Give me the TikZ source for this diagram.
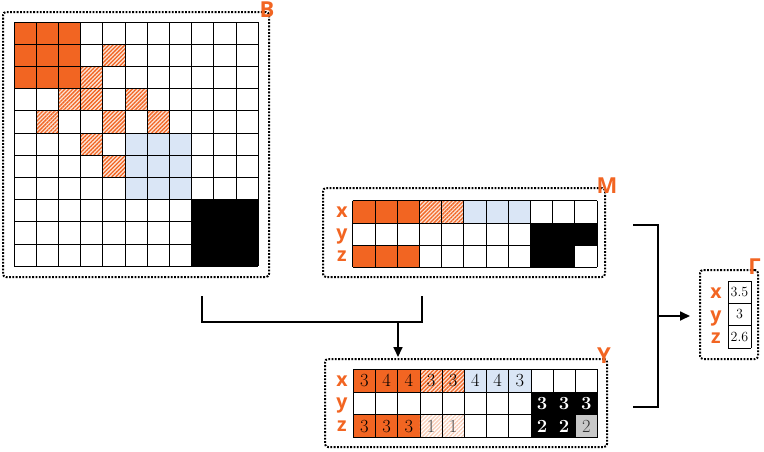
\documentclass[tikz,border=0pt]{standalone}
\usepackage{fontspec}
\newfontfamily\labfont{Open Sans}
\usetikzlibrary{patterns.meta,arrows.meta}
\definecolor{org}{HTML}{F26522}
\definecolor{lblue}{HTML}{DAE6F6}
\definecolor{peach}{HTML}{FCE3D6}
\definecolor{paleorg}{HTML}{F8CDB8}
\definecolor{lgray}{HTML}{C8C8C8}
\tikzset{
  dotbox/.style={draw=black, line width=2pt, dash pattern=on 1.8pt off 1.5pt, rounded corners=3pt, inner sep=0pt, outer sep=0pt, anchor=north west},
  orgcell/.style={fill=org},
  bluecell/.style={fill=lblue},
  blackcell/.style={fill=black},
  graycell/.style={fill=lgray},
  hatchcell/.style={fill=peach, postaction={pattern={Lines[angle=45,distance=2.8pt,line width=1.3pt]}, pattern color=org}},
  fainthatch/.style={fill=white, postaction={pattern={Lines[angle=45,distance=2.8pt,line width=1.3pt]}, pattern color=paleorg}},
  gl/.style={draw=black, line width=0.8pt},
  num/.style={font=\fontsize{18.5}{18.5}\selectfont, inner sep=0pt},
  bnum/.style={font=\fontsize{18.5}{18.5}\selectfont\bfseries, text=white, inner sep=0pt},
  gnum/.style={font=\fontsize{14}{14}\selectfont, inner sep=0pt},
  rowlab/.style={font=\labfont\bfseries\fontsize{19.5}{19.5}\selectfont, text=org, anchor=base, inner sep=0pt},
  boxlab/.style={font=\labfont\bfseries\fontsize{22}{22}\selectfont, text=org, inner sep=0pt},
  conn/.style={draw=black, line width=1.7pt},
  arr/.style={conn, -{Triangle[length=10pt,width=9pt]}}
}
\begin{document}
\begin{tikzpicture}[x=1pt,y=-1pt]
\useasboundingbox (0,0) rectangle (764,451);

% ---------- B ----------
\node[dotbox, minimum width=266pt, minimum height=265pt] (Bbox) at (3,12) {};
\node[boxlab] (Blab) at (267,9.5) {B};
\begin{scope}[shift={(14,22)},x=22.2pt,y=-22.2pt]
  \foreach \c/\r in {0/0,1/0,2/0,0/1,1/1,2/1,0/2,1/2,2/2}
    \path[orgcell] (\c,\r) rectangle ++(1,1);
  \foreach \c/\r in {4/1,3/2,2/3,3/3,5/3,1/4,4/4,6/4,3/5,4/6}
    \path[hatchcell] (\c,\r) rectangle ++(1,1);
  \foreach \c in {5,6,7} \foreach \r in {5,6,7}
    \path[bluecell] (\c,\r) rectangle ++(1,1);
  \foreach \c in {8,9,10} \foreach \r in {8,9,10}
    \path[blackcell] (\c,\r) rectangle ++(1,1);
  \foreach \i in {0,...,11} {
    \draw[gl] (\i,0) -- (\i,11);
    \draw[gl] (0,\i) -- (11,\i);
  }
\end{scope}

% ---------- M ----------
\node[dotbox, minimum width=282pt, minimum height=89pt] (Mbox) at (323,188) {};
\node[boxlab] (Mlab) at (607,186) {M};
\node[rowlab] (Mx) at (342,217) {x};
\node[rowlab] (My) at (342,239) {y};
\node[rowlab] (Mz) at (342,261.5) {z};
\begin{scope}[shift={(352.7,200.7)},x=22.2pt,y=-22.2pt]
  \foreach \c/\r in {0/0,1/0,2/0,0/2,1/2,2/2}
    \path[orgcell] (\c,\r) rectangle ++(1,1);
  \foreach \c/\r in {3/0,4/0}
    \path[hatchcell] (\c,\r) rectangle ++(1,1);
  \foreach \c/\r in {5/0,6/0,7/0}
    \path[bluecell] (\c,\r) rectangle ++(1,1);
  \foreach \c/\r in {8/1,9/1,10/1,8/2,9/2}
    \path[blackcell] (\c,\r) rectangle ++(1,1);
  \foreach \i in {0,...,11} \draw[gl] (\i,0) -- (\i,3);
  \foreach \i in {0,...,3} \draw[gl] (0,\i) -- (11,\i);
\end{scope}

% ---------- Y ----------
\node[dotbox, minimum width=282pt, minimum height=88pt] (Ybox) at (325,359) {};
\node[boxlab] (Ylab) at (604,356) {Y};
\node[rowlab] (Yx) at (342,386) {x};
\node[rowlab] (Yy) at (342,408.5) {y};
\node[rowlab] (Yz) at (342,431.5) {z};
\begin{scope}[shift={(353.3,369.3)},x=22.2pt,y=-22.7pt]
  \foreach \c/\r in {0/0,1/0,2/0,0/2,1/2,2/2}
    \path[orgcell] (\c,\r) rectangle ++(1,1);
  \foreach \c/\r in {3/0,4/0}
    \path[hatchcell] (\c,\r) rectangle ++(1,1);
  \foreach \c/\r in {3/2,4/2}
    \path[fainthatch] (\c,\r) rectangle ++(1,1);
  \foreach \c/\r in {5/0,6/0,7/0}
    \path[bluecell] (\c,\r) rectangle ++(1,1);
  \foreach \c/\r in {8/1,9/1,10/1,8/2,9/2}
    \path[blackcell] (\c,\r) rectangle ++(1,1);
  \path[graycell] (10,2) rectangle ++(1,1);
  \foreach \i in {0,...,11} \draw[gl] (\i,0) -- (\i,3);
  \foreach \i in {0,...,3} \draw[gl] (0,\i) -- (11,\i);
  \foreach \c/\v in {0/3,1/4,2/4,3/3,4/3,5/4,6/4,7/3}
    \node[num] (yx\c) at (\c+0.5,0.5) {\v};
  \foreach \c/\v in {8/3,9/3,10/3}
    \node[bnum] (yy\c) at (\c+0.5,1.5) {\v};
  \foreach \c/\v in {0/3,1/3,2/3}
    \node[num] (yz\c) at (\c+0.5,2.5) {\v};
  \foreach \c/\v in {3/1,4/1}
    \node[num, text=black!70] (yz\c) at (\c+0.5,2.5) {\v};
  \foreach \c/\v in {8/2,9/2}
    \node[bnum] (yz\c) at (\c+0.5,2.5) {\v};
  \node[num, text=black!80] (yz10) at (10.5,2.5) {2};
\end{scope}

% ---------- Gamma ----------
\node[dotbox, minimum width=58pt, minimum height=89pt] (Gbox) at (700,270) {};
\node[boxlab] (Glab) at (754.5,267) {Γ};
\node[rowlab] (Gx) at (716,298.5) {x};
\node[rowlab] (Gy) at (716,321) {y};
\node[rowlab] (Gz) at (716,343) {z};
\begin{scope}[shift={(728,281)},x=23pt,y=-22.3pt]
  \foreach \i in {0,1} \draw[gl] (\i,0) -- (\i,3);
  \foreach \i in {0,...,3} \draw[gl] (0,\i) -- (1,\i);
  \node[gnum] (g1) at (0.5,0.5) {3.5};
  \node[gnum] (g2) at (0.5,1.5) {3};
  \node[gnum] (g3) at (0.5,2.5) {2.6};
\end{scope}

% ---------- connectors ----------
\coordinate (bB) at (202,296);
\coordinate (bM) at (422,296);
\coordinate (bj) at (398,322);
\draw[conn] (bB) -- (bB |- bj) -- (bM |- bj) -- (bM);
\draw[arr, shorten >=2pt] (bj) -- (Ybox.north -| bj);

\coordinate (rM) at (633,225);
\coordinate (rY) at (633,407);
\coordinate (rj) at (658,316);
\draw[conn] (rM) -- (rM -| rj) -- (rY -| rj) -- (rY);
\draw[arr, shorten >=10pt] (rj) -- (Gbox.west |- rj);
\end{tikzpicture}
\end{document}
